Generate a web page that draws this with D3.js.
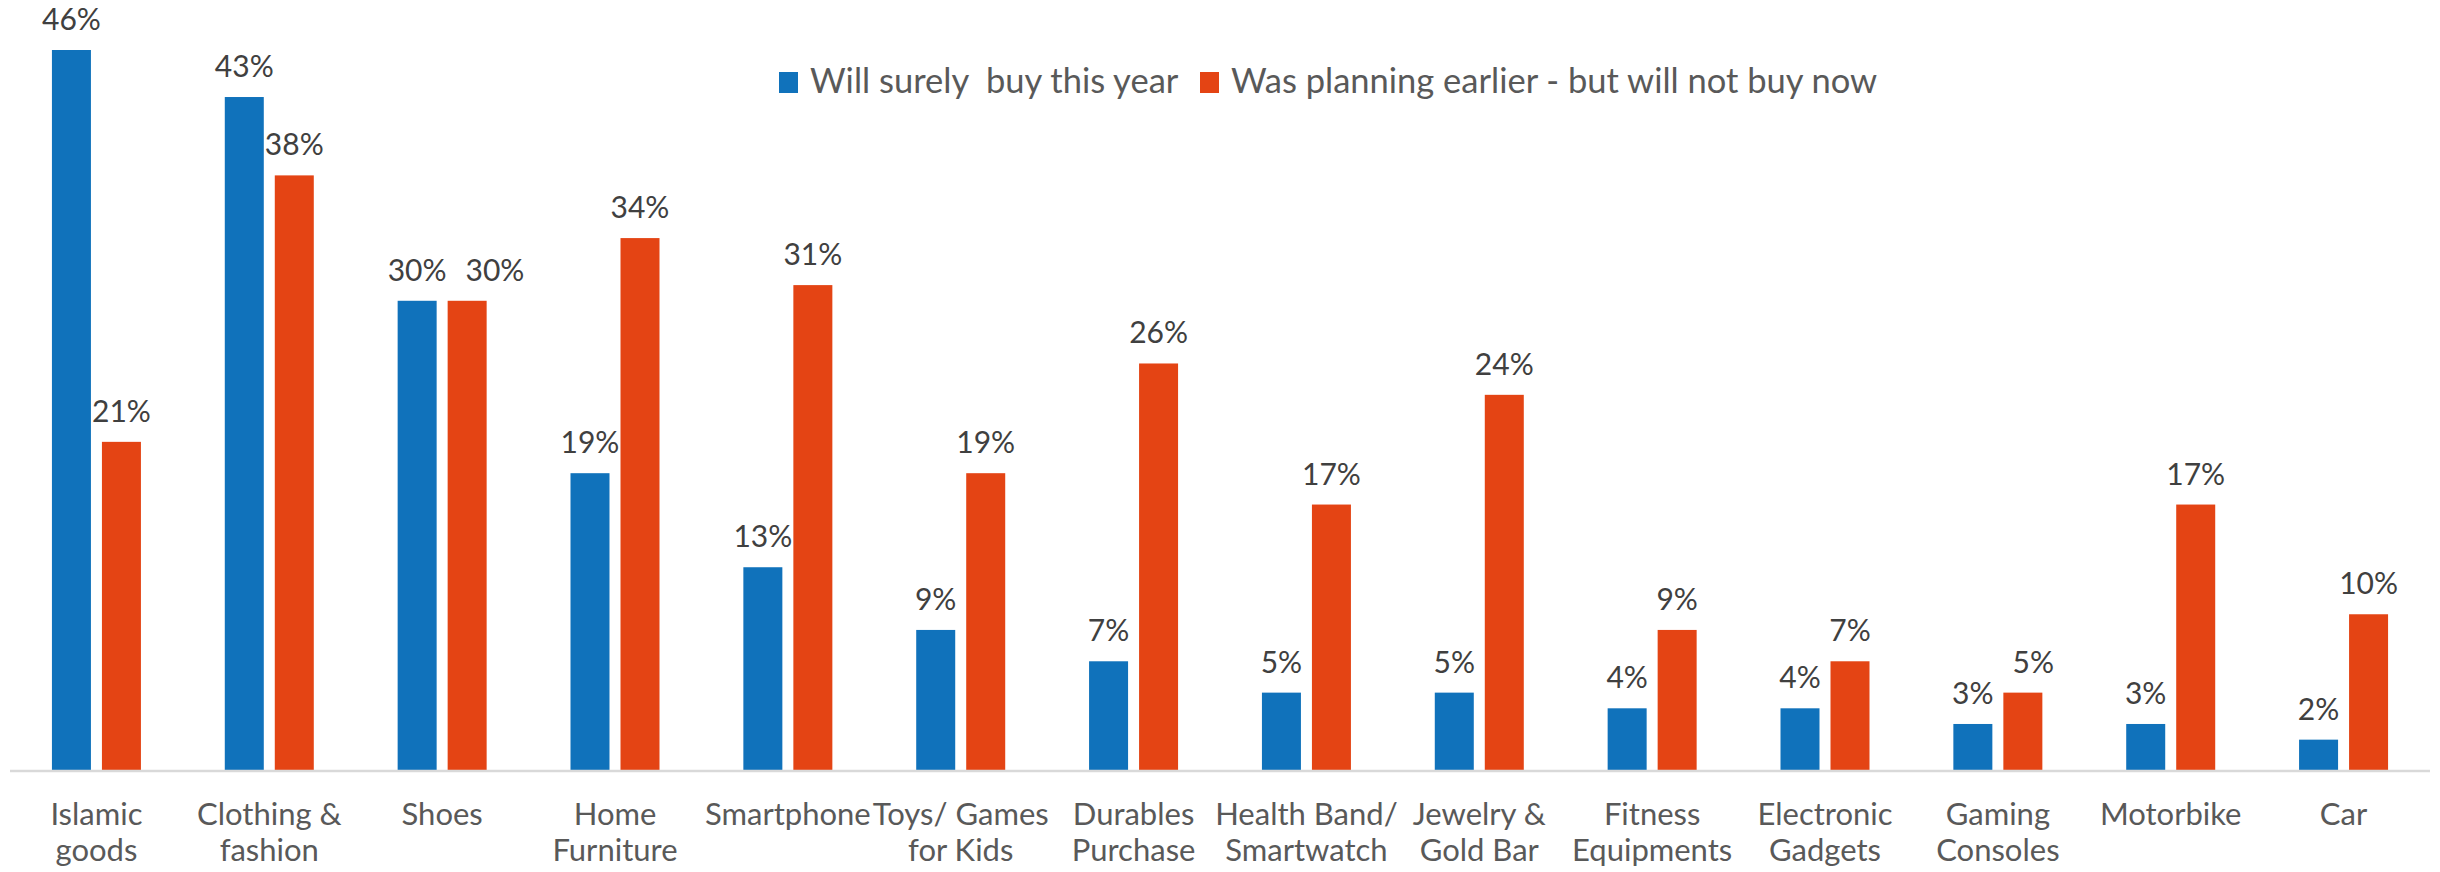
<!DOCTYPE html>
<html>
<head>
<meta charset="utf-8">
<script src="https://cdn.jsdelivr.net/npm/d3@7"></script>
<style>
  html, body { margin: 0; padding: 0; background: #ffffff; }
  svg { display: block; }
  text { font-family: Lato, "Open Sans", sans-serif; }
</style>
</head>
<body>
<svg id="chart" width="2440" height="872"></svg>
<script>
// Purchase intentions by product category
const categories = [
  "Islamic\ngoods", "Clothing &\nfashion", "Shoes", "Home\nFurniture", "Smartphone",
  "Toys/ Games\nfor Kids", "Durables\nPurchase", "Health Band/\nSmartwatch", "Jewelry &\nGold Bar",
  "Fitness\nEquipments", "Electronic\nGadgets", "Gaming\nConsoles", "Motorbike", "Car"
];
const seriesNames = ["Will surely  buy this year", "Was planning earlier - but will not buy now"];
const willBuy = [46, 43, 30, 19, 13, 9, 7, 5, 5, 4, 4, 3, 3, 2];
const notNow = [21, 38, 30, 34, 31, 19, 26, 17, 24, 9, 7, 5, 17, 10];
const seriesColors = ["#1072BB", "#E44414"];

const svg = d3.select("#chart");
const baseY = 771;

const x0 = d3.scaleBand().domain(d3.range(categories.length)).range([10, 2430]);
const groupW = 89;
const x1 = d3.scaleBand().domain([0, 1])
  .range([(x0.bandwidth() - groupW) / 2, (x0.bandwidth() + groupW) / 2])
  .paddingInner(11 / 50);
const y = d3.scaleLinear().domain([0, 46]).range([baseY, 50]);

const rows = categories.map((c, i) => ({ i, vals: [willBuy[i], notNow[i]] }));

const groups = svg.append("g").selectAll("g").data(rows).join("g")
  .attr("transform", d => `translate(${x0(d.i)},0)`);

groups.selectAll("rect").data(d => d.vals.map((v, s) => ({ v, s }))).join("rect")
  .attr("x", d => x1(d.s))
  .attr("width", x1.bandwidth())
  .attr("y", d => y(d.v))
  .attr("height", d => baseY - y(d.v))
  .attr("fill", d => seriesColors[d.s]);

groups.each(function () {
  const labels = d3.select(this).selectAll("text.val")
    .data(d => d.vals.map((v, s) => ({ v, s }))).join("text")
    .attr("class", "val")
    .attr("x", d => x1(d.s) + x1.bandwidth() / 2)
    .attr("y", d => y(d.v) - 20)
    .attr("text-anchor", "middle")
    .attr("font-size", 30)
    .attr("fill", "#404040")
    .text(d => d.v + "%");
  // keep side-by-side labels at equal height from colliding
  const nodes = labels.nodes();
  const a = nodes[0].getBBox(), b = nodes[1].getBBox();
  if (Math.abs(a.y - b.y) < a.height && a.x + a.width + 19 > b.x) {
    const shift = a.x + a.width + 19 - b.x;
    d3.select(nodes[1]).attr("x", +d3.select(nodes[1]).attr("x") + shift);
  }
});

// category axis
const axis = svg.append("g").attr("transform", `translate(0,${baseY})`)
  .call(d3.axisBottom(x0).tickSize(0).tickFormat(i => categories[i]));
axis.select(".domain").attr("stroke", "#D9D9D9").attr("stroke-width", 2.5)
  .attr("d", "M10,0H2430");
axis.selectAll(".tick text").each(function (i) {
  const t = d3.select(this);
  const lines = categories[i].split("\n");
  t.text(null)
    .attr("y", 0).attr("dy", null)
    .attr("font-size", 31)
    .attr("font-family", "Lato, 'Open Sans', sans-serif")
    .attr("fill", "#595959");
  lines.forEach((ln, k) => {
    t.append("tspan").attr("x", 0).attr("y", 54 + k * 36).text(ln);
  });
});

// legend
const legend = svg.append("g");
const legendX = [779, 1200];
seriesNames.forEach((name, s) => {
  legend.append("rect").attr("x", legendX[s]).attr("y", 72)
    .attr("width", 19).attr("height", 21).attr("fill", seriesColors[s]);
  legend.append("text").attr("x", legendX[s] + 31).attr("y", 93)
    .attr("font-size", 34.5).attr("fill", "#595959")
    .style("white-space", "pre")
    .text(name);
});
</script>
</body>
</html>
